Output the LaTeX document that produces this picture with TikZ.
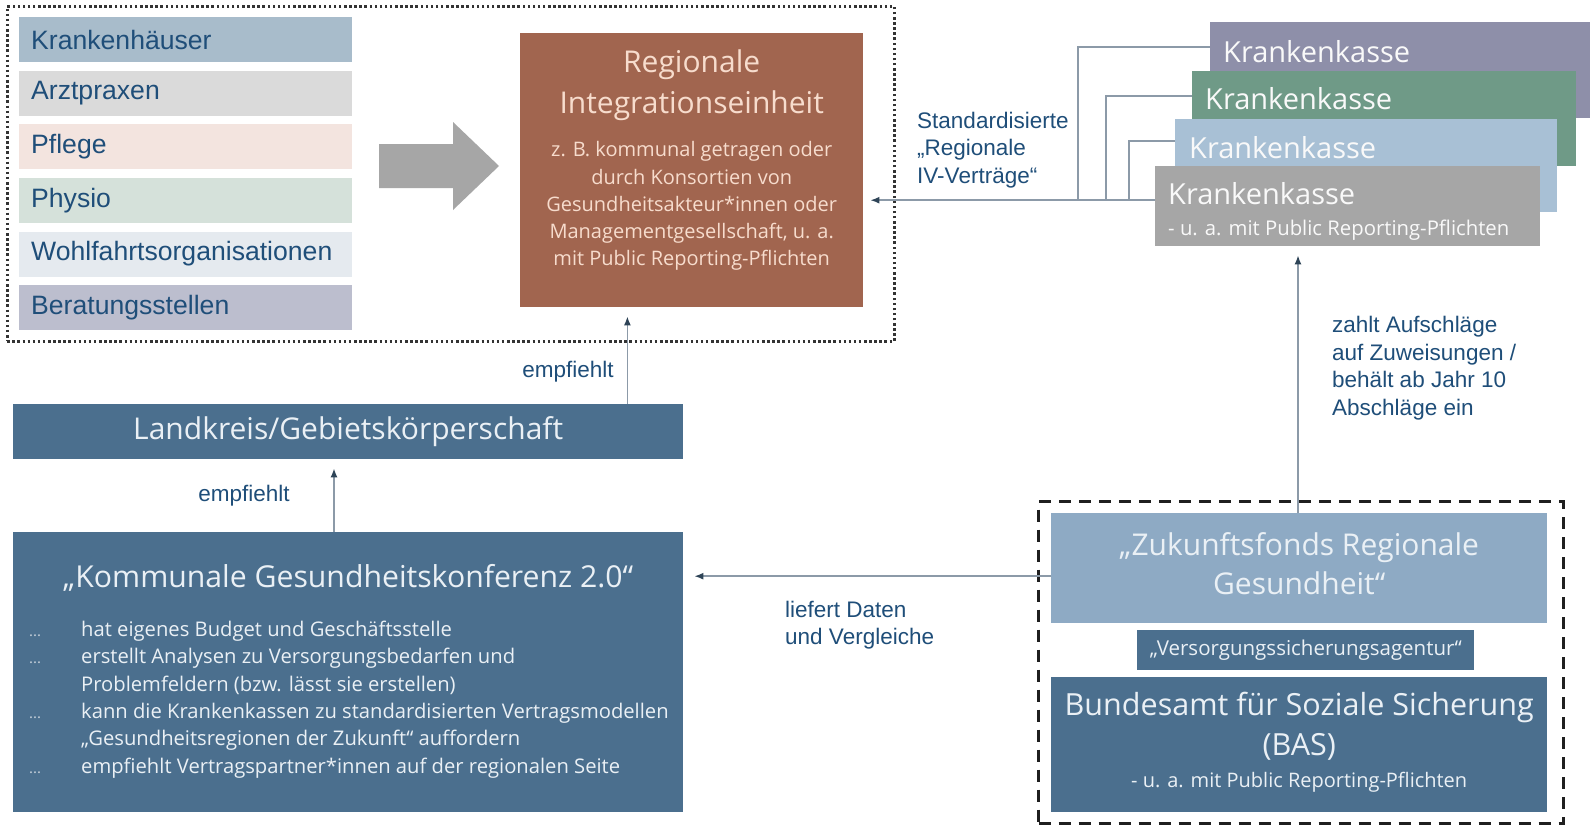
\documentclass[tikz,border=0pt]{standalone}
\usepackage{fontspec}
\setmainfont{Open Sans}
\newfontfamily\arl{Liberation Sans}
\usetikzlibrary{arrows.meta,calc}
\definecolor{lbl}{HTML}{1F4E79}
\definecolor{rowA}{HTML}{A8BCCB}
\definecolor{rowB}{HTML}{DADADA}
\definecolor{rowC}{HTML}{F3E4DF}
\definecolor{rowD}{HTML}{D5E1DA}
\definecolor{rowE}{HTML}{E5EAEF}
\definecolor{rowF}{HTML}{BCBECE}
\definecolor{bigarrow}{HTML}{A6A6A6}
\definecolor{brown}{HTML}{A1654F}
\definecolor{browntext}{HTML}{F7DCCD}
\definecolor{steel}{HTML}{4B6F8E}
\definecolor{steeltext}{HTML}{EAF0F5}
\definecolor{zfblue}{HTML}{8EAAC4}
\definecolor{kkA}{HTML}{8E8FA9}
\definecolor{kkB}{HTML}{6F9A87}
\definecolor{kkC}{HTML}{A8C0D5}
\definecolor{kkD}{HTML}{A6A6A6}
\definecolor{conncol}{HTML}{8C9AA8}
\definecolor{tipcol}{HTML}{2E4457}
\definecolor{dotcol}{HTML}{C8D2DC}
\newcommand{\fs}[2]{\fontsize{#1}{#2}\selectfont}
\newcommand{\kbul}{\hspace*{16pt}\makebox[52pt][l]{\color{dotcol}\fs{15}{15}...}}
\newcommand{\kind}{\hspace*{68pt}}
\begin{document}
\begin{tikzpicture}[x=1pt,y=-1pt,
  listrow/.style={anchor=north west, minimum height=45pt, text width=309pt, inner xsep=12pt, inner ysep=0pt, align=left, font=\arl\fs{26.6}{30}, text=lbl},
  pbox/.style={anchor=north west, inner sep=0pt},
  kkbox/.style={pbox, text=white!95!gray, font=\fs{29}{34}},
  conn/.style={draw=conncol, line width=1.5pt},
  arr/.style={conn, -{Latex[length=9pt,width=7pt,color=tipcol]}},
  lab/.style={font=\arl\fs{22.5}{27.5}, text=lbl, align=left, inner sep=0pt}
]
\fill[white] (0,0) rectangle (1592,827);
\useasboundingbox (0,0) rectangle (1592,827);

% dotted group
\node[anchor=north west, minimum width=887pt, minimum height=335pt, draw=black!80, line width=2.5pt, dash pattern=on 2.5pt off 2.6pt] (grp) at (6,5) {};

% list rows
\node[listrow, fill=rowA] (r1) at (19,17) {Krankenhäuser};
\node[listrow, fill=rowB] (r2) at (19,70.6) {Arztpraxen};
\node[listrow, fill=rowC] (r3) at (19,124.2) {Pflege};
\node[listrow, fill=rowD] (r4) at (19,177.8) {Physio};
\node[listrow, fill=rowE] (r5) at (19,231.4) {Wohlfahrtsorganisationen};
\node[listrow, fill=rowF] (r6) at (19,285) {Beratungsstellen};

% big grey arrow
\fill[bigarrow] (379,144) -- (453,144) -- (453,122) -- (499,166) -- (453,210) -- (453,188) -- (379,188) -- cycle;

% central box
\node[pbox, fill=brown, text=browntext] (ri) at (520,33) {\parbox[c][274pt][t]{343pt}{\centering\vspace*{17pt}\fs{30}{41}Regionale\\Integrationseinheit\par\vspace{15.8pt}\fs{20}{27.2}z. B. kommunal getragen oder\\durch Konsortien von\\Gesundheitsakteur*innen oder\\Managementgesellschaft, u. a.\\mit Public Reporting-Pflichten\par}};

% Krankenkassen
\node[kkbox, fill=kkA] (kk1) at (1210,22) {\parbox[c][96pt][t]{380pt}{\vspace*{18pt}\hspace*{13pt}Krankenkasse}};
\node[kkbox, fill=kkB] (kk2) at (1192,71) {\parbox[c][95pt][t]{384pt}{\vspace*{16.5pt}\hspace*{13pt}Krankenkasse}};
\node[kkbox, fill=kkC] (kk3) at (1175,119) {\parbox[c][93pt][t]{382pt}{\vspace*{17pt}\hspace*{14pt}Krankenkasse}};
\node[kkbox, fill=kkD] (kk4) at (1155,166) {\parbox[c][80pt][t]{385pt}{\vspace*{16pt}\hspace*{13pt}Krankenkasse\par\vspace{4pt}\fs{20.3}{27}\hspace*{13pt}- u. a. mit Public Reporting-Pflichten}};

% Landkreis
\node[anchor=north west, minimum width=670pt, minimum height=55pt, inner sep=0pt, fill=steel, text=steeltext, font=\fs{30}{36}] (lk) at (13,404) {Landkreis/Gebietskörperschaft};

% Kommunale Gesundheitskonferenz
\node[pbox, fill=steel, text=steeltext] (kg) at (13,532) {\parbox[c][280pt][t]{670pt}{\vspace*{32pt}\centering\fs{30.2}{36}„Kommunale Gesundheitskonferenz 2.0“\par\vspace{21.6pt}\raggedright\fs{20.2}{27.4}%
\kbul hat eigenes Budget und Geschäftsstelle\\
\kbul erstellt Analysen zu Versorgungsbedarfen und\\
\kind Problemfeldern (bzw. lässt sie erstellen)\\
\kbul kann die Krankenkassen zu standardisierten Vertragsmodellen\\
\kind „Gesundheitsregionen der Zukunft“ auffordern\\
\kbul empfiehlt Vertragspartner*innen auf der regionalen Seite\par}};

% right bottom group
\node[pbox, fill=zfblue, text=steeltext] (zf) at (1051,513) {\parbox[c][110pt][t]{496pt}{\vspace*{19pt}\centering\fs{30}{39}„Zukunftsfonds Regionale\\Gesundheit“\par}};
\node[anchor=north west, minimum width=337pt, minimum height=40pt, inner sep=0pt, fill=steel, text=steeltext, font=\fs{20.5}{22}] (va) at (1137,630) {„Versorgungssicherungsagentur“};
\node[pbox, fill=steel, text=steeltext] (bas) at (1051,677) {\parbox[c][135pt][t]{496pt}{\vspace*{15pt}\centering\fs{30.5}{40}Bundesamt für Soziale Sicherung\\(BAS)\par\vspace{5pt}\fs{20}{27}- u. a. mit Public Reporting-Pflichten\par}};
\node[anchor=north west, minimum width=525pt, minimum height=322pt, draw=black!88, line width=3pt, dash pattern=on 12pt off 8pt] (fund) at (1037,500) {};

% connectors Krankenkassen -> central
\coordinate (j1) at (1078,200);
\coordinate (j2) at (1106,200);
\coordinate (j3) at (1129,200);
\coordinate (kkj) at ([yshift=6pt]kk4.west);
\draw[arr, shorten >=7pt] (kkj) -- (kkj -| ri.east);
\draw[conn] ([yshift=-25pt]kk1.north west) -| (j1);
\draw[conn] ([yshift=-25pt]kk2.north west) -| (j2);
\draw[conn] ([yshift=-22pt]kk3.north west) -| (j3);

% other arrows
\draw[arr, shorten >=9pt] ([xshift=-56pt]lk.north east) coordinate (a1) -- (a1 |- ri.south);
\draw[arr, shorten >=9pt] ([xshift=321pt]kg.north west) coordinate (a2) -- (a2 |- lk.south);
\draw[arr, shorten >=11pt] ([yshift=-8pt]zf.west) coordinate (a3) -- (a3 -| kg.east);
\draw[arr, shorten >=9pt] ([xshift=247pt]zf.north west) coordinate (a4) -- (a4 |- kk4.south);

% labels
\node[lab, anchor=west] (l1) at (917,150) {Standardisierte\\„Regionale\\IV-Verträge“};
\node[lab] (l2) at (568,372) {empfiehlt};
\node[lab] (l3) at (244,496) {empfiehlt};
\node[lab, anchor=west] (l4) at (785,625) {liefert Daten\\und Vergleiche};
\node[lab, anchor=west] (l5) at (1332,368) {zahlt Aufschläge\\auf Zuweisungen /\\behält ab Jahr 10\\Abschläge ein};
\end{tikzpicture}
\end{document}
